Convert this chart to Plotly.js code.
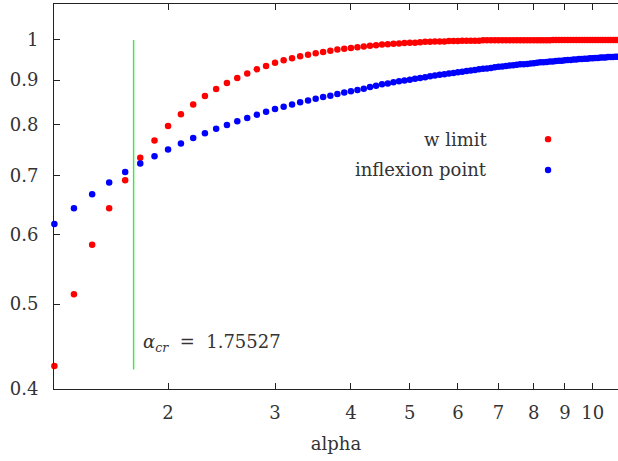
<!DOCTYPE html>
<html>
<head>
<meta charset="utf-8">
<script src="https://cdn.plot.ly/plotly-3.0.1.min.js"></script>
<style>html,body{margin:0;padding:0;background:#fff;}#chart{width:618px;height:461px;}</style>
</head>
<body>
<div id="chart"></div>
<script>
// alpha values (x)
const alpha = [1.3,1.4,1.5,1.6,1.7,1.8,1.9,2.0,2.1,2.2,2.3,2.4,2.5,2.6,2.7,2.8,2.9,3.0,3.1,3.2,3.3,3.4,3.5,3.6,3.7,3.8,3.9,4.0,4.1,4.2,4.3,4.4,4.5,4.6,4.7,4.8,4.9,5.0,5.1,5.2,5.3,5.4,5.5,5.6,5.7,5.8,5.9,6.0,6.1,6.2,6.3,6.4,6.5,6.6,6.7,6.8,6.9,7.0,7.1,7.2,7.3,7.4,7.5,7.6,7.7,7.8,7.9,8.0,8.1,8.2,8.3,8.4,8.5,8.6,8.7,8.8,8.9,9.0,9.1,9.2,9.3,9.4,9.5,9.6,9.7,9.8,9.9,10.0,10.1,10.2,10.3,10.4,10.5,10.6,10.7,10.8,10.9,11.0];
// w limit (red)
const wLimit = [0.425,0.513,0.584,0.643,0.692,0.734,0.768,0.798,0.823,0.844,0.863,0.879,0.893,0.905,0.916,0.926,0.934,0.942,0.948,0.953,0.958,0.962,0.966,0.969,0.972,0.975,0.977,0.979,0.981,0.983,0.985,0.986,0.988,0.989,0.990,0.991,0.992,0.993,0.993,0.994,0.995,0.995,0.996,0.996,0.996,0.997,0.997,0.997,0.998,0.998,0.998,0.998,0.998,0.999,0.999,0.999,0.999,0.999,0.999,0.999,0.999,0.999,0.999,0.999,0.999,0.999,0.999,0.999,0.999,0.999,0.999,0.999,0.999,1.0,1.0,1.0,1.0,1.0,1.0,1.0,1.0,1.0,1.0,1.0,1.0,1.0,1.0,1.0,1.0,1.0,1.0,1.0,1.0,1.0,1.0,1.0,1.0,1.0];
// inflexion point (blue)
const inflexion = [0.617,0.643,0.667,0.688,0.707,0.723,0.737,0.750,0.762,0.773,0.783,0.792,0.800,0.808,0.815,0.822,0.828,0.834,0.839,0.844,0.849,0.853,0.857,0.861,0.864,0.868,0.871,0.874,0.877,0.880,0.884,0.887,0.890,0.892,0.895,0.897,0.899,0.901,0.903,0.905,0.907,0.909,0.911,0.913,0.914,0.916,0.917,0.919,0.920,0.922,0.923,0.924,0.926,0.927,0.928,0.929,0.931,0.932,0.933,0.934,0.935,0.936,0.937,0.938,0.938,0.939,0.940,0.941,0.942,0.943,0.943,0.944,0.945,0.945,0.946,0.947,0.947,0.948,0.949,0.949,0.950,0.950,0.951,0.951,0.952,0.952,0.953,0.953,0.954,0.954,0.955,0.955,0.955,0.956,0.956,0.956,0.957,0.957];
const alphaCr = 1.75527;
const crLineY = [0.421, 1.0];
const xTicks = [2,3,4,5,6,7,8,9,10];
const xTickText = ['2','3','4','5','6','7','8','9','10'];
const yTicks = [0.4,0.5,0.6,0.7,0.8,0.9,1];
const yTickText = ['0.4','0.5','0.6','0.7','0.8','0.9','1'];
const seriesNames = ['w limit','inflexion point'];
const seriesColors = ['#ff0000','#0000ff'];

const font = {family: 'DejaVu Serif', size: 18, color: '#333'};

const traces = [
  {x: alpha, y: wLimit, type: 'scatter', mode: 'markers', name: seriesNames[0],
   marker: {color: seriesColors[0], size: 6.5}, cliponaxis: false, showlegend: false},
  {x: alpha, y: inflexion, type: 'scatter', mode: 'markers', name: seriesNames[1],
   marker: {color: seriesColors[1], size: 6.5}, cliponaxis: false, showlegend: false}
];

const keyX = 0.771, keyMarkX = 0.876, keyY = [0.649, 0.569];

const layout = {
  width: 618, height: 461,
  margin: {l: 54, r: 0, t: 4, b: 72},
  paper_bgcolor: '#fff', plot_bgcolor: '#fff',
  font: font,
  showlegend: false,
  xaxis: {
    type: 'log', range: [0.1133, 1.0417],
    tickvals: xTicks, ticktext: xTickText,
    ticks: 'inside', ticklen: 6, tickcolor: '#222', tickwidth: 1,
    showline: true, linecolor: '#222', linewidth: 1, mirror: 'ticks',
    showgrid: false, zeroline: false,
    ticklabelstandoff: 7, tickfont: font,
    title: {text: 'alpha', font: font, standoff: 15}
  },
  yaxis: {
    type: 'log', range: [Math.log10(0.4), 0.041],
    tickvals: yTicks, ticktext: yTickText,
    ticks: 'inside', ticklen: 6, tickcolor: '#222', tickwidth: 1,
    showline: true, linecolor: '#222', linewidth: 1,
    showgrid: false, zeroline: false, tickfont: font,
    ticklabelstandoff: 11
  },
  shapes: [
    {type: 'line', xref: 'x', yref: 'y', x0: alphaCr, x1: alphaCr, y0: crLineY[0], y1: crLineY[1],
     line: {color: '#33ee33', width: 1.4}},
    {type: 'circle', xref: 'paper', yref: 'paper', xsizemode: 'pixel', ysizemode: 'pixel',
     xanchor: keyMarkX, yanchor: keyY[0], x0: -3.2, x1: 3.2, y0: -3.2, y1: 3.2,
     fillcolor: seriesColors[0], line: {width: 0}},
    {type: 'circle', xref: 'paper', yref: 'paper', xsizemode: 'pixel', ysizemode: 'pixel',
     xanchor: keyMarkX, yanchor: keyY[1], x0: -3.2, x1: 3.2, y0: -3.2, y1: 3.2,
     fillcolor: seriesColors[1], line: {width: 0}}
  ],
  annotations: [
    {xref: 'paper', yref: 'paper', x: keyX, y: keyY[0], xanchor: 'right', yanchor: 'middle',
     text: seriesNames[0], showarrow: false, font: font},
    {xref: 'paper', yref: 'paper', x: keyX, y: keyY[1], xanchor: 'right', yanchor: 'middle',
     text: seriesNames[1], showarrow: false, font: font},
    {xref: 'paper', yref: 'paper', x: 0.154, y: 0.119, xanchor: 'left', yanchor: 'middle',
     text: '<i>α</i><sub><i>cr</i></sub>&nbsp; = &nbsp;1.75527', showarrow: false, font: font}
  ]
};

Plotly.newPlot('chart', traces, layout, {displayModeBar: false, staticPlot: true});
</script>
</body>
</html>
